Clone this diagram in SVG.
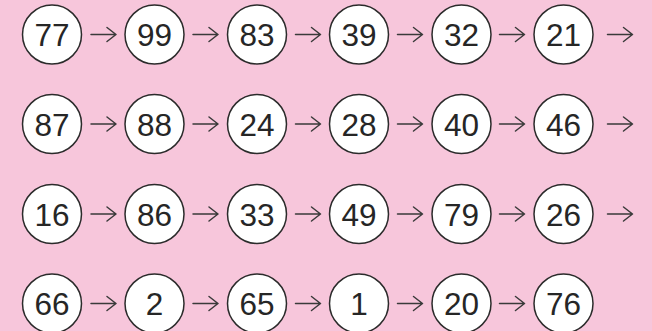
<svg xmlns="http://www.w3.org/2000/svg" width="652" height="331" viewBox="0 0 652 331">
<style>
.n circle{fill:#fff;stroke:#2b2b2b;stroke-width:1.5}
.n text{font-family:"Liberation Sans",Arial,sans-serif;font-size:31.5px;fill:#262626;text-anchor:middle}
.a path{fill:none;stroke:#3a3a3a;stroke-width:1.5;stroke-linecap:round;stroke-linejoin:round}
</style>
<rect width="652" height="331" fill="#F7C6DB"/>
<g id="connectors" class="a">
<path d="M91 34.5H116M107 27.5L116 34.5L107 41.5"/>
<path d="M193 34.5H218M209 27.5L218 34.5L209 41.5"/>
<path d="M295.5 34.5H320.5M311.5 27.5L320.5 34.5L311.5 41.5"/>
<path d="M397.5 34.5H422.5M413.5 27.5L422.5 34.5L413.5 41.5"/>
<path d="M499.5 34.5H524.5M515.5 27.5L524.5 34.5L515.5 41.5"/>
<path d="M607.5 34.5H632.5M623.5 27.5L632.5 34.5L623.5 41.5"/>
<path d="M91 124H116M107 117L116 124L107 131"/>
<path d="M193 124H218M209 117L218 124L209 131"/>
<path d="M295.5 124H320.5M311.5 117L320.5 124L311.5 131"/>
<path d="M397.5 124H422.5M413.5 117L422.5 124L413.5 131"/>
<path d="M499.5 124H524.5M515.5 117L524.5 124L515.5 131"/>
<path d="M607.5 124H632.5M623.5 117L632.5 124L623.5 131"/>
<path d="M91 214H116M107 207L116 214L107 221"/>
<path d="M193 214H218M209 207L218 214L209 221"/>
<path d="M295.5 214H320.5M311.5 207L320.5 214L311.5 221"/>
<path d="M397.5 214H422.5M413.5 207L422.5 214L413.5 221"/>
<path d="M499.5 214H524.5M515.5 207L524.5 214L515.5 221"/>
<path d="M607.5 214H632.5M623.5 207L632.5 214L623.5 221"/>
<path d="M91 303.5H116M107 296.5L116 303.5L107 310.5"/>
<path d="M193 303.5H218M209 296.5L218 303.5L209 310.5"/>
<path d="M295.5 303.5H320.5M311.5 296.5L320.5 303.5L311.5 310.5"/>
<path d="M397.5 303.5H422.5M413.5 296.5L422.5 303.5L413.5 310.5"/>
<path d="M499.5 303.5H524.5M515.5 296.5L524.5 303.5L515.5 310.5"/>
</g>
<g id="n77" class="n"><circle cx="52" cy="34.5" r="29.5"/><text x="52" y="46">77</text></g>
<g id="n99" class="n"><circle cx="154.5" cy="34.5" r="29.5"/><text x="154.5" y="46">99</text></g>
<g id="n83" class="n"><circle cx="257" cy="34.5" r="29.5"/><text x="257" y="46">83</text></g>
<g id="n39" class="n"><circle cx="359" cy="34.5" r="29.5"/><text x="359" y="46">39</text></g>
<g id="n32" class="n"><circle cx="461.5" cy="34.5" r="29.5"/><text x="461.5" y="46">32</text></g>
<g id="n21" class="n"><circle cx="563.5" cy="34.5" r="29.5"/><text x="563.5" y="46">21</text></g>
<g id="n87" class="n"><circle cx="52" cy="124" r="29.5"/><text x="52" y="135.5">87</text></g>
<g id="n88" class="n"><circle cx="154.5" cy="124" r="29.5"/><text x="154.5" y="135.5">88</text></g>
<g id="n24" class="n"><circle cx="257" cy="124" r="29.5"/><text x="257" y="135.5">24</text></g>
<g id="n28" class="n"><circle cx="359" cy="124" r="29.5"/><text x="359" y="135.5">28</text></g>
<g id="n40" class="n"><circle cx="461.5" cy="124" r="29.5"/><text x="461.5" y="135.5">40</text></g>
<g id="n46" class="n"><circle cx="563.5" cy="124" r="29.5"/><text x="563.5" y="135.5">46</text></g>
<g id="n16" class="n"><circle cx="52" cy="214" r="29.5"/><text x="52" y="225.5">16</text></g>
<g id="n86" class="n"><circle cx="154.5" cy="214" r="29.5"/><text x="154.5" y="225.5">86</text></g>
<g id="n33" class="n"><circle cx="257" cy="214" r="29.5"/><text x="257" y="225.5">33</text></g>
<g id="n49" class="n"><circle cx="359" cy="214" r="29.5"/><text x="359" y="225.5">49</text></g>
<g id="n79" class="n"><circle cx="461.5" cy="214" r="29.5"/><text x="461.5" y="225.5">79</text></g>
<g id="n26" class="n"><circle cx="563.5" cy="214" r="29.5"/><text x="563.5" y="225.5">26</text></g>
<g id="n66" class="n"><circle cx="52" cy="303.5" r="29.5"/><text x="52" y="315">66</text></g>
<g id="n2" class="n"><circle cx="154.5" cy="303.5" r="29.5"/><text x="154.5" y="315">2</text></g>
<g id="n65" class="n"><circle cx="257" cy="303.5" r="29.5"/><text x="257" y="315">65</text></g>
<g id="n1" class="n"><circle cx="359" cy="303.5" r="29.5"/><text x="359" y="315">1</text></g>
<g id="n20" class="n"><circle cx="461.5" cy="303.5" r="29.5"/><text x="461.5" y="315">20</text></g>
<g id="n76" class="n"><circle cx="563.5" cy="303.5" r="29.5"/><text x="563.5" y="315">76</text></g>
</svg>
